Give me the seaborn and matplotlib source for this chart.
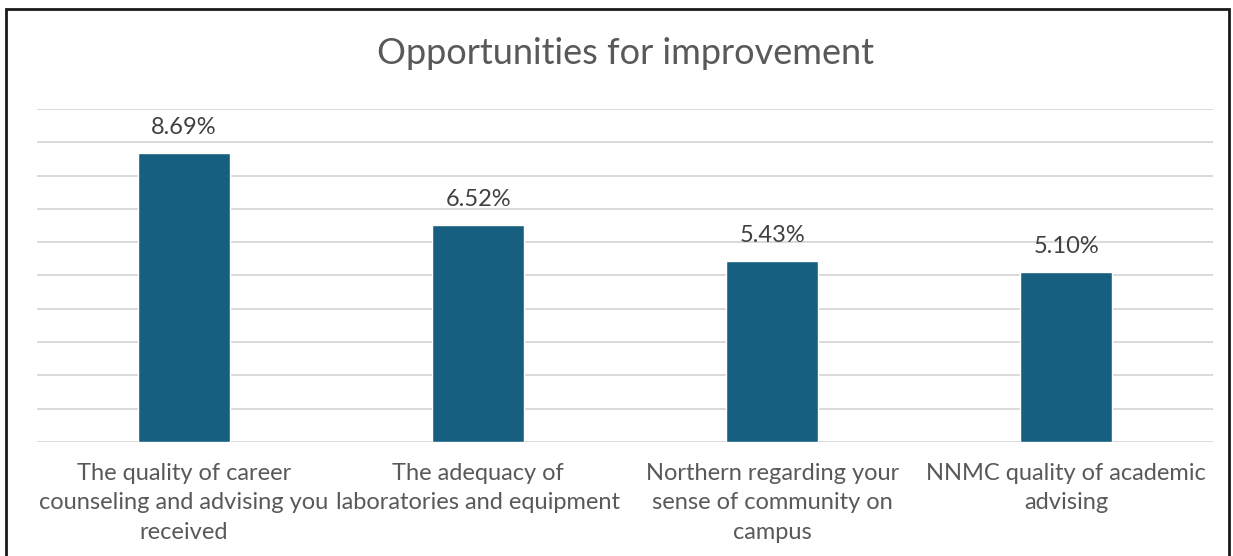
import seaborn as sns
import matplotlib.pyplot as plt
import matplotlib.patches as mpatches
import pandas as pd

# Chart data
categories = [
    "The quality of career\ncounseling and advising you\nreceived",
    "The adequacy of\nlaboratories and equipment",
    "Northern regarding your\nsense of community on\ncampus",
    "NNMC quality of academic\nadvising",
]
percentages = [8.69, 6.52, 5.43, 5.10]

df = pd.DataFrame({"Item": categories, "Pct": percentages})

sns.set_style("white")
plt.rcParams['font.family'] = ['Lato', 'DejaVu Sans']

fig = plt.figure(figsize=(12.33, 5.56), dpi=100)
ax = fig.add_axes([0.030, 0.205, 0.954, 0.599])

sns.barplot(data=df, x="Item", y="Pct", color="#175F80", width=0.313,
            saturation=1, ax=ax, zorder=3)

ax.set_ylim(0, 10)
ax.set_yticks(range(0, 11))
ax.yaxis.grid(True, color="#d9d9d9", linewidth=1.4, zorder=0)
ax.set_yticklabels([])
ax.tick_params(axis="y", length=0)
ax.tick_params(axis="x", length=0, pad=15, labelsize=17, labelcolor="#595959")
for lbl in ax.get_xticklabels():
    lbl.set_linespacing(1.5)
for s in ax.spines.values():
    s.set_visible(False)
ax.set_xlabel("")
ax.set_ylabel("")

for i, v in enumerate(percentages):
    ax.text(i, v + 0.45, f"{v:.2f}%", ha="center", va="bottom",
            fontsize=17, color="#404040")

fig.text(0.507, 0.903, "Opportunities for improvement", ha="center", va="center",
         fontsize=26, color="#595959")

# outer chart border
fig.patches.append(mpatches.Rectangle((0.005, -0.05), 0.992, 1.034,
                                      transform=fig.transFigure, fill=False,
                                      edgecolor="#1a1a1a", linewidth=2))

plt.savefig("out.png", dpi=100)
